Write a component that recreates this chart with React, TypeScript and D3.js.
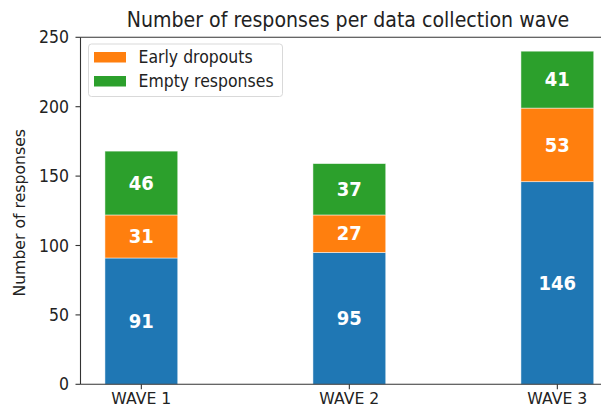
import React from "react";
import * as d3 from "d3";

const categories = ["WAVE 1", "WAVE 2", "WAVE 3"];
const completeResponses = [91, 95, 146];
const earlyDropouts = [31, 27, 53];
const emptyResponses = [46, 37, 41];
const yTicks = [0, 50, 100, 150, 200, 250];
const seriesNames = ["Complete", "Early dropouts", "Empty responses"];
const seriesColors = ["#1f77b4", "#ff7f0e", "#2ca02c"];

const W = 609;
const H = 412;
const left = 80.5;
const top = 37.3;
const bottom = 384.3;
const barWidth = 0.35;
const VS = 1.1;

function T(props: any) {
  const { x, y, children, ...rest } = props;
  return (
    <text transform={`translate(${x},${y}) scale(1,${VS})`} {...rest}>
      {children}
    </text>
  );
}

export default function App() {
  const x = d3.scaleLinear().domain([-0.2925, 2.2925]).range([left, left + 2.585 * 208]);
  const y = d3.scaleLinear().domain([0, 250]).range([bottom, top]);
  const series = [completeResponses, earlyDropouts, emptyResponses];
  const table = categories.map((c, i) => ({
    cat: c,
    s0: series[0][i],
    s1: series[1][i],
    s2: series[2][i],
  }));
  const stacked = d3.stack<any>().keys(["s0", "s1", "s2"])(table);
  const font = "DejaVu Sans, sans-serif";
  const right = x(2.2925);

  return (
    <div style={{ margin: -8, overflow: "hidden", width: W, height: H }}>
      <svg width={W} height={H} style={{ display: "block" }}>
        <rect width={W} height={H} fill="white" />
        {stacked.map((layer, li) =>
          layer.map((d, i) => {
            const x0 = x(i - barWidth / 2);
            const x1 = x(i + barWidth / 2);
            const yTop = y(d[1]);
            const yBot = y(d[0]);
            return (
              <g key={`${li}-${i}`}>
                <rect
                  x={x0}
                  y={yTop}
                  width={x1 - x0}
                  height={yBot - yTop}
                  fill={seriesColors[li]}
                  stroke="#ffffff"
                  strokeOpacity={0.6}
                  strokeWidth={0.8}
                />
                <T
                  x={(x0 + x1) / 2}
                  y={(yTop + yBot) / 2 + 6.7}
                  textAnchor="middle"
                  fill="white"
                  fontFamily={font}
                  fontWeight="bold"
                  fontSize={18}
                >
                  {d[1] - d[0]}
                </T>
              </g>
            );
          })
        )}
        {/* spines */}
        <line x1={left} x2={left} y1={top} y2={bottom} stroke="#333" strokeWidth={1.1} />
        <line x1={left} x2={right} y1={bottom} y2={bottom} stroke="#333" strokeWidth={1.1} />
        <line x1={left} x2={right} y1={top} y2={top} stroke="#333" strokeWidth={1.1} />
        <line x1={right} x2={right} y1={top} y2={bottom} stroke="#333" strokeWidth={1.1} />
        {/* y ticks */}
        {yTicks.map((t) => (
          <g key={t}>
            <line x1={left - 5} x2={left} y1={y(t)} y2={y(t)} stroke="#333" strokeWidth={1.1} />
            <T
              x={left - 11.5}
              y={y(t) + 6}
              textAnchor="end"
              fontFamily={font}
              fontSize={15.7}
              fill="#222"
            >
              {t}
            </T>
          </g>
        ))}
        {/* x ticks */}
        {categories.map((c, i) => (
          <g key={c}>
            <line x1={x(i)} x2={x(i)} y1={bottom} y2={bottom + 5} stroke="#333" strokeWidth={1.1} />
            <text
              x={x(i)}
              y={404}
              textAnchor="middle"
              fontFamily={font}
              fontSize={15.7}
              fill="#222"
            >
              {c}
            </text>
          </g>
        ))}
        {/* y label */}
        <text
          transform={`translate(25, ${(top + bottom) / 2 + 2}) rotate(-90)`}
          textAnchor="middle"
          fontFamily={font}
          fontSize={15.7}
          fill="#222"
        >
          Number of responses
        </text>
        {/* title */}
        <T x={348} y={26.7} textAnchor="middle" fontFamily={font} fontSize={19} fill="#222">
          Number of responses per data collection wave
        </T>
        {/* legend */}
        <rect
          x={88.5}
          y={44}
          width={194}
          height={52.5}
          rx={3}
          fill="white"
          fillOpacity={0.8}
          stroke="#d9d9d9"
          strokeWidth={1}
        />
        {[1, 2].map((si, k) => (
          <g key={si}>
            <rect x={94} y={52 + k * 24} width={32} height={10.5} fill={seriesColors[si]} />
            <T
              x={138.5}
              y={63 + k * 24}
              fontFamily={font}
              fontSize={15.7}
              fill="#222"
            >
              {seriesNames[si]}
            </T>
          </g>
        ))}
      </svg>
    </div>
  );
}
